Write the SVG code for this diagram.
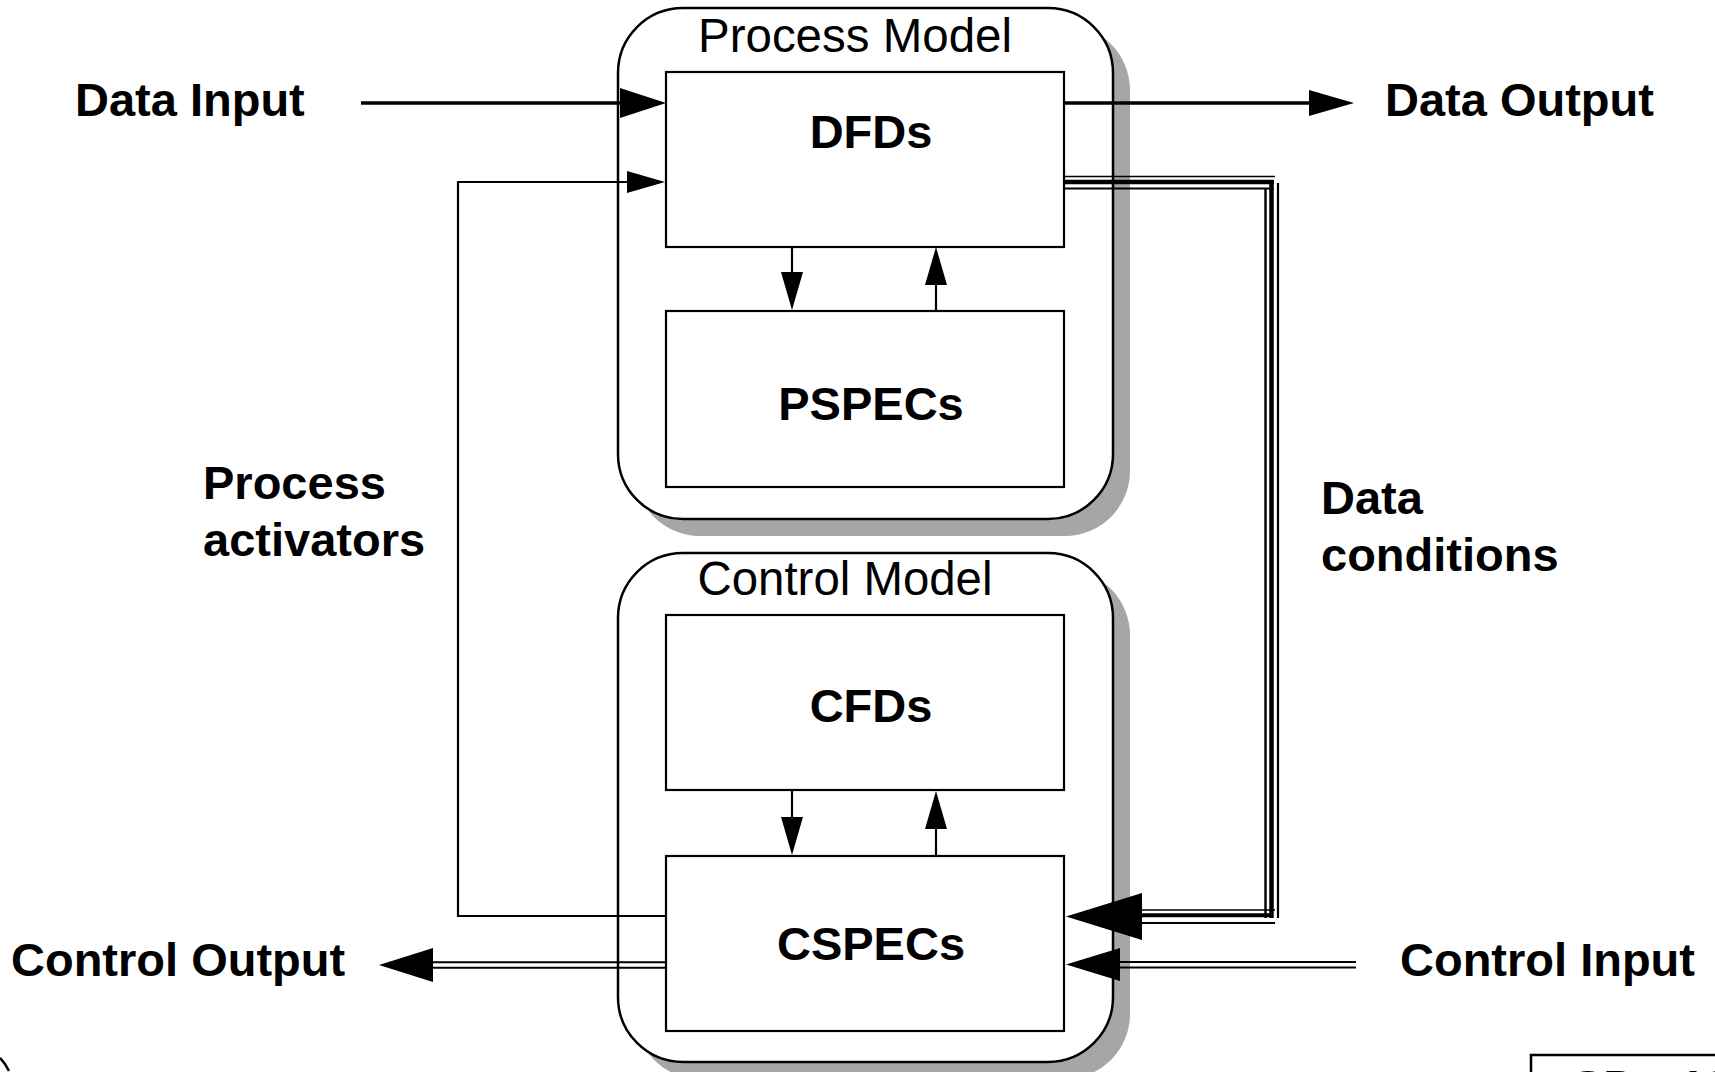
<svg xmlns="http://www.w3.org/2000/svg" width="1715" height="1072" viewBox="0 0 1715 1072">
<defs>
<style>
.shadow{fill:#a6a6a6;stroke:none}
.outer{fill:#fff;stroke:#000;stroke-width:2.5}
.box{fill:#fff;stroke:#000;stroke-width:2.2}
.ln{fill:none;stroke:#000;stroke-width:2.2}
.thick{fill:none;stroke:#000;stroke-width:3.6}
.head{fill:#000;stroke:none}
.lbl{font-family:"Liberation Sans",Arial,sans-serif;font-size:47px;font-weight:bold;fill:#000}
.title{font-family:"Liberation Sans",Arial,sans-serif;font-size:48px;fill:#000}
</style>
</defs>
<rect width="1715" height="1072" fill="#fff"/>

<g id="process-model">
<rect class="shadow" x="635" y="25" width="495" height="511" rx="65" ry="65"/>
<rect class="outer" x="618" y="8" width="495" height="511" rx="65" ry="65"/>
<text class="title" x="855" y="52" text-anchor="middle" textLength="314" lengthAdjust="spacingAndGlyphs">Process Model</text>
</g>
<g id="control-model">
<rect class="shadow" x="635" y="570" width="495" height="509" rx="65" ry="65"/>
<rect class="outer" x="618" y="553" width="495" height="509" rx="65" ry="65"/>
<text class="title" x="845" y="595" text-anchor="middle" textLength="295" lengthAdjust="spacingAndGlyphs">Control Model</text>
</g>

<g id="dfds">
<rect class="box" x="666" y="72" width="398" height="175"/>
<text class="lbl" x="871" y="148" text-anchor="middle">DFDs</text>
</g>
<g id="pspecs">
<rect class="box" x="666" y="311" width="398" height="176"/>
<text class="lbl" x="871" y="420" text-anchor="middle">PSPECs</text>
</g>
<g id="cfds">
<rect class="box" x="666" y="615" width="398" height="175"/>
<text class="lbl" x="871" y="722" text-anchor="middle">CFDs</text>
</g>
<g id="cspecs">
<rect class="box" x="666" y="856" width="398" height="175"/>
<text class="lbl" x="871" y="960" text-anchor="middle">CSPECs</text>
</g>

<g id="connectors">
<!-- Data Input -->
<line class="thick" x1="361" y1="103" x2="625" y2="103"/>
<polygon class="head" points="666,103 620,88 620,118"/>
<!-- Data Output -->
<line class="thick" x1="1064" y1="103" x2="1312" y2="103"/>
<polygon class="head" points="1354,103 1309,90 1309,116"/>
<!-- DFDs <-> PSPECs -->
<line class="ln" x1="792" y1="247" x2="792" y2="275"/>
<polygon class="head" points="792,310 781,272 803,272"/>
<line class="ln" x1="936" y1="280" x2="936" y2="311"/>
<polygon class="head" points="936,247 925,285 947,285"/>
<!-- CFDs <-> CSPECs -->
<line class="ln" x1="792" y1="790" x2="792" y2="818"/>
<polygon class="head" points="792,855 781,817 803,817"/>
<line class="ln" x1="936" y1="825" x2="936" y2="856"/>
<polygon class="head" points="936,791 925,829 947,829"/>
<!-- Process activators -->
<polyline class="ln" points="666,916 458,916 458,182 630,182"/>
<polygon class="head" points="665,182 627,171 627,193"/>
<!-- Data conditions (triple line) -->
<line stroke="#000" stroke-width="1.6" x1="1064" y1="176.5" x2="1275" y2="176.5"/>
<line stroke="#000" stroke-width="4.5" x1="1064" y1="182" x2="1274" y2="182"/>
<line stroke="#000" stroke-width="2" x1="1064" y1="188.5" x2="1274" y2="188.5"/>
<line stroke="#000" stroke-width="2.4" x1="1265.5" y1="188" x2="1265.5" y2="918"/>
<line stroke="#000" stroke-width="4.5" x1="1271.5" y1="180" x2="1271.5" y2="918"/>
<line stroke="#000" stroke-width="2.2" x1="1278" y1="183" x2="1278" y2="918"/>
<line stroke="#000" stroke-width="1.7" x1="1138" y1="910" x2="1275" y2="910"/>
<line stroke="#000" stroke-width="4" x1="1138" y1="915.3" x2="1273" y2="915.3"/>
<line stroke="#000" stroke-width="2" x1="1138" y1="923" x2="1275" y2="923"/>
<polygon class="head" points="1066,916.5 1142,893 1142,940"/>
<!-- Control Input (double line) -->
<line stroke="#000" stroke-width="2" x1="1116" y1="962" x2="1356" y2="962"/>
<line stroke="#000" stroke-width="2" x1="1116" y1="967.5" x2="1356" y2="967.5"/>
<polygon class="head" points="1066,964.5 1120,948 1120,981"/>
<!-- Control Output (double line) -->
<line stroke="#000" stroke-width="2" x1="430" y1="962.3" x2="666" y2="962.3"/>
<line stroke="#000" stroke-width="2" x1="430" y1="967.7" x2="666" y2="967.7"/>
<polygon class="head" points="379,965 433,948 433,982"/>
</g>

<g id="labels">
<text class="lbl" x="75" y="116">Data Input</text>
<text class="lbl" x="1385" y="116">Data Output</text>
<text class="lbl" x="203" y="499">Process</text>
<text class="lbl" x="203" y="556">activators</text>
<text class="lbl" x="1321" y="514">Data</text>
<text class="lbl" x="1321" y="571">conditions</text>
<text class="lbl" x="11" y="976">Control Output</text>
<text class="lbl" x="1400" y="976">Control Input</text>
</g>

<g id="page-tag">
<rect x="1531" y="1055" width="300" height="100" fill="#fff" stroke="#000" stroke-width="2.5"/>
<text class="lbl" x="1572" y="1103">SD - 18</text>
</g>
<path d="M0,1058 Q5,1063 9,1071" fill="none" stroke="#000" stroke-width="2.5"/>
</svg>
